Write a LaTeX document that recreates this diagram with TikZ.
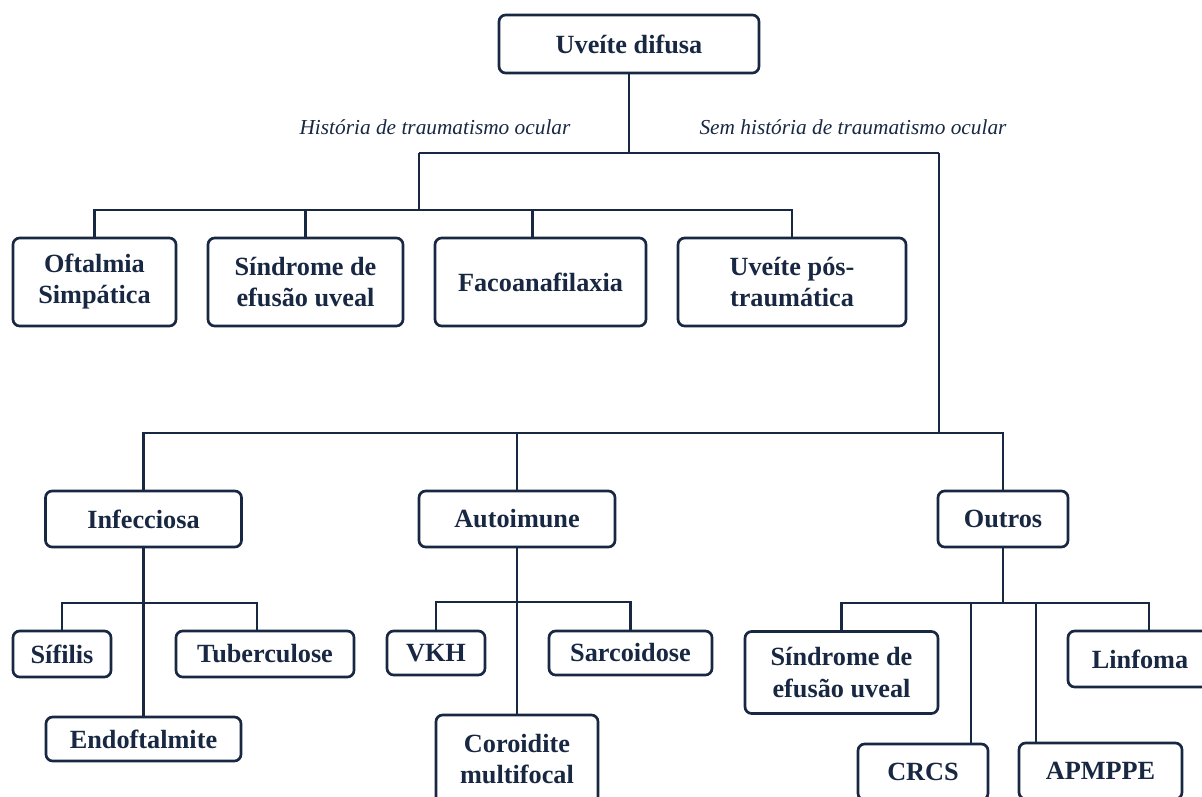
\documentclass[tikz,border=0pt]{standalone}
\usepackage{fontspec}
\setmainfont{Liberation Serif}
\usetikzlibrary{calc}
\definecolor{navy}{RGB}{24,40,66}
\tikzset{
  bx/.style 2 args={draw=navy, line width=2pt, rounded corners=5pt, fill=white,
    text=navy, font=\bfseries\fontsize{19.7}{23.3}\selectfont, align=center,
    inner sep=0pt, minimum width=#1, minimum height=#2},
  conn/.style={draw=navy, line width=2pt},
  lbl/.style={text=navy, font=\itshape\fontsize{16}{19}\selectfont, inner sep=0pt, anchor=base}
}
\begin{document}
\begin{tikzpicture}[x=0.75pt,y=-0.75pt]
\useasboundingbox (0,0) rectangle (1202,796);
% junction coordinates
\coordinate (hL) at (419,153);
\coordinate (hR) at (939,153);
\coordinate (t1) at (419,210);
\coordinate (t2) at (939,433);
\coordinate (t3) at (144,603);
\coordinate (t4) at (517,602);
\coordinate (t5) at (1003,603);
% connectors (drawn first, boxes cover ends)
\draw[conn] (629,44) coordinate (rootc) -- (rootc |- hL);
\draw[conn] (hL) -- (hR);
\draw[conn] (hL) -- (t1);
\draw[conn] (hR) -- (t2);
% nodes
\node[bx={195pt}{43.5pt}] (root) at (629,44) {Uveíte difusa};
\node[bx={122.25pt}{66pt}] (oft) at (94.5,282) {Oftalmia\\Simpática};
\node[bx={146.25pt}{66pt}] (sin1) at (305.5,282) {Síndrome de\\efusão uveal};
\node[bx={158.25pt}{66pt}] (fac) at (540.5,282) {Facoanafilaxia};
\node[bx={171pt}{66pt}] (uvp) at (792,282) {Uveíte pós-\\traumática};
\node[bx={147pt}{42pt}] (inf) at (143.5,519) {Infecciosa};
\node[bx={147pt}{42pt}] (aut) at (517,519) {Autoimune};
\node[bx={97.5pt}{42pt}] (out) at (1003,519) {Outros};
\node[bx={73.5pt}{34.5pt}] (sif) at (62,654) {Sífilis};
\node[bx={133.5pt}{34.5pt}] (tub) at (265,654) {Tuberculose};
\node[bx={146.25pt}{33pt}] (end) at (143.5,739) {Endoftalmite};
\node[bx={73.5pt}{33pt}] (vkh) at (436,653) {VKH};
\node[bx={122.25pt}{33pt}] (sar) at (630.5,653) {Sarcoidose};
\node[bx={121.5pt}{66pt}] (cor) at (517,759) {Coroidite\\multifocal};
\node[bx={144.75pt}{61.5pt}] (sin2) at (841.5,672.5) {Síndrome de\\efusão uveal};
\node[bx={108pt}{42pt}] (lin) at (1140,659) {Linfoma};
\node[bx={97.5pt}{42pt}] (crcs) at (923,772) {CRCS};
\node[bx={122.25pt}{42pt}] (apm) at (1100.5,771) {APMPPE};
% labels
\node[lbl] (lh) at (435,134) {História de traumatismo ocular};
\node[lbl] (ls) at (853,134) {Sem história de traumatismo ocular};
% tree connectors
\draw[conn] (oft.north) |- (t1) -| (uvp.north);
\draw[conn] (sin1.north) -- (sin1.north |- t1);
\draw[conn] ([xshift=-6pt]fac.north) -- ([xshift=-6pt]fac.north |- t1);
\draw[conn] (inf.north) |- (t2) -| (out.north);
\draw[conn] (aut.north) -- (aut.north |- t2);
\draw[conn] (inf.south) -- (end.north);
\draw[conn] (sif.north) |- (t3) -| ([xshift=-6pt]tub.north);
\draw[conn] (aut.south) -- (cor.north);
\draw[conn] (vkh.north) |- (t4) -| (sar.north);
\draw[conn] (out.south) -- (t5);
\draw[conn] (sin2.north) |- (t5) -| ([xshift=6.75pt]lin.north);
\draw[conn] ([xshift=36pt]crcs.north) -- ([xshift=36pt]crcs.north |- t5);
\draw[conn] ([xshift=-48.4pt]apm.north) -- ([xshift=-48.4pt]apm.north |- t5);
\end{tikzpicture}
\end{document}
